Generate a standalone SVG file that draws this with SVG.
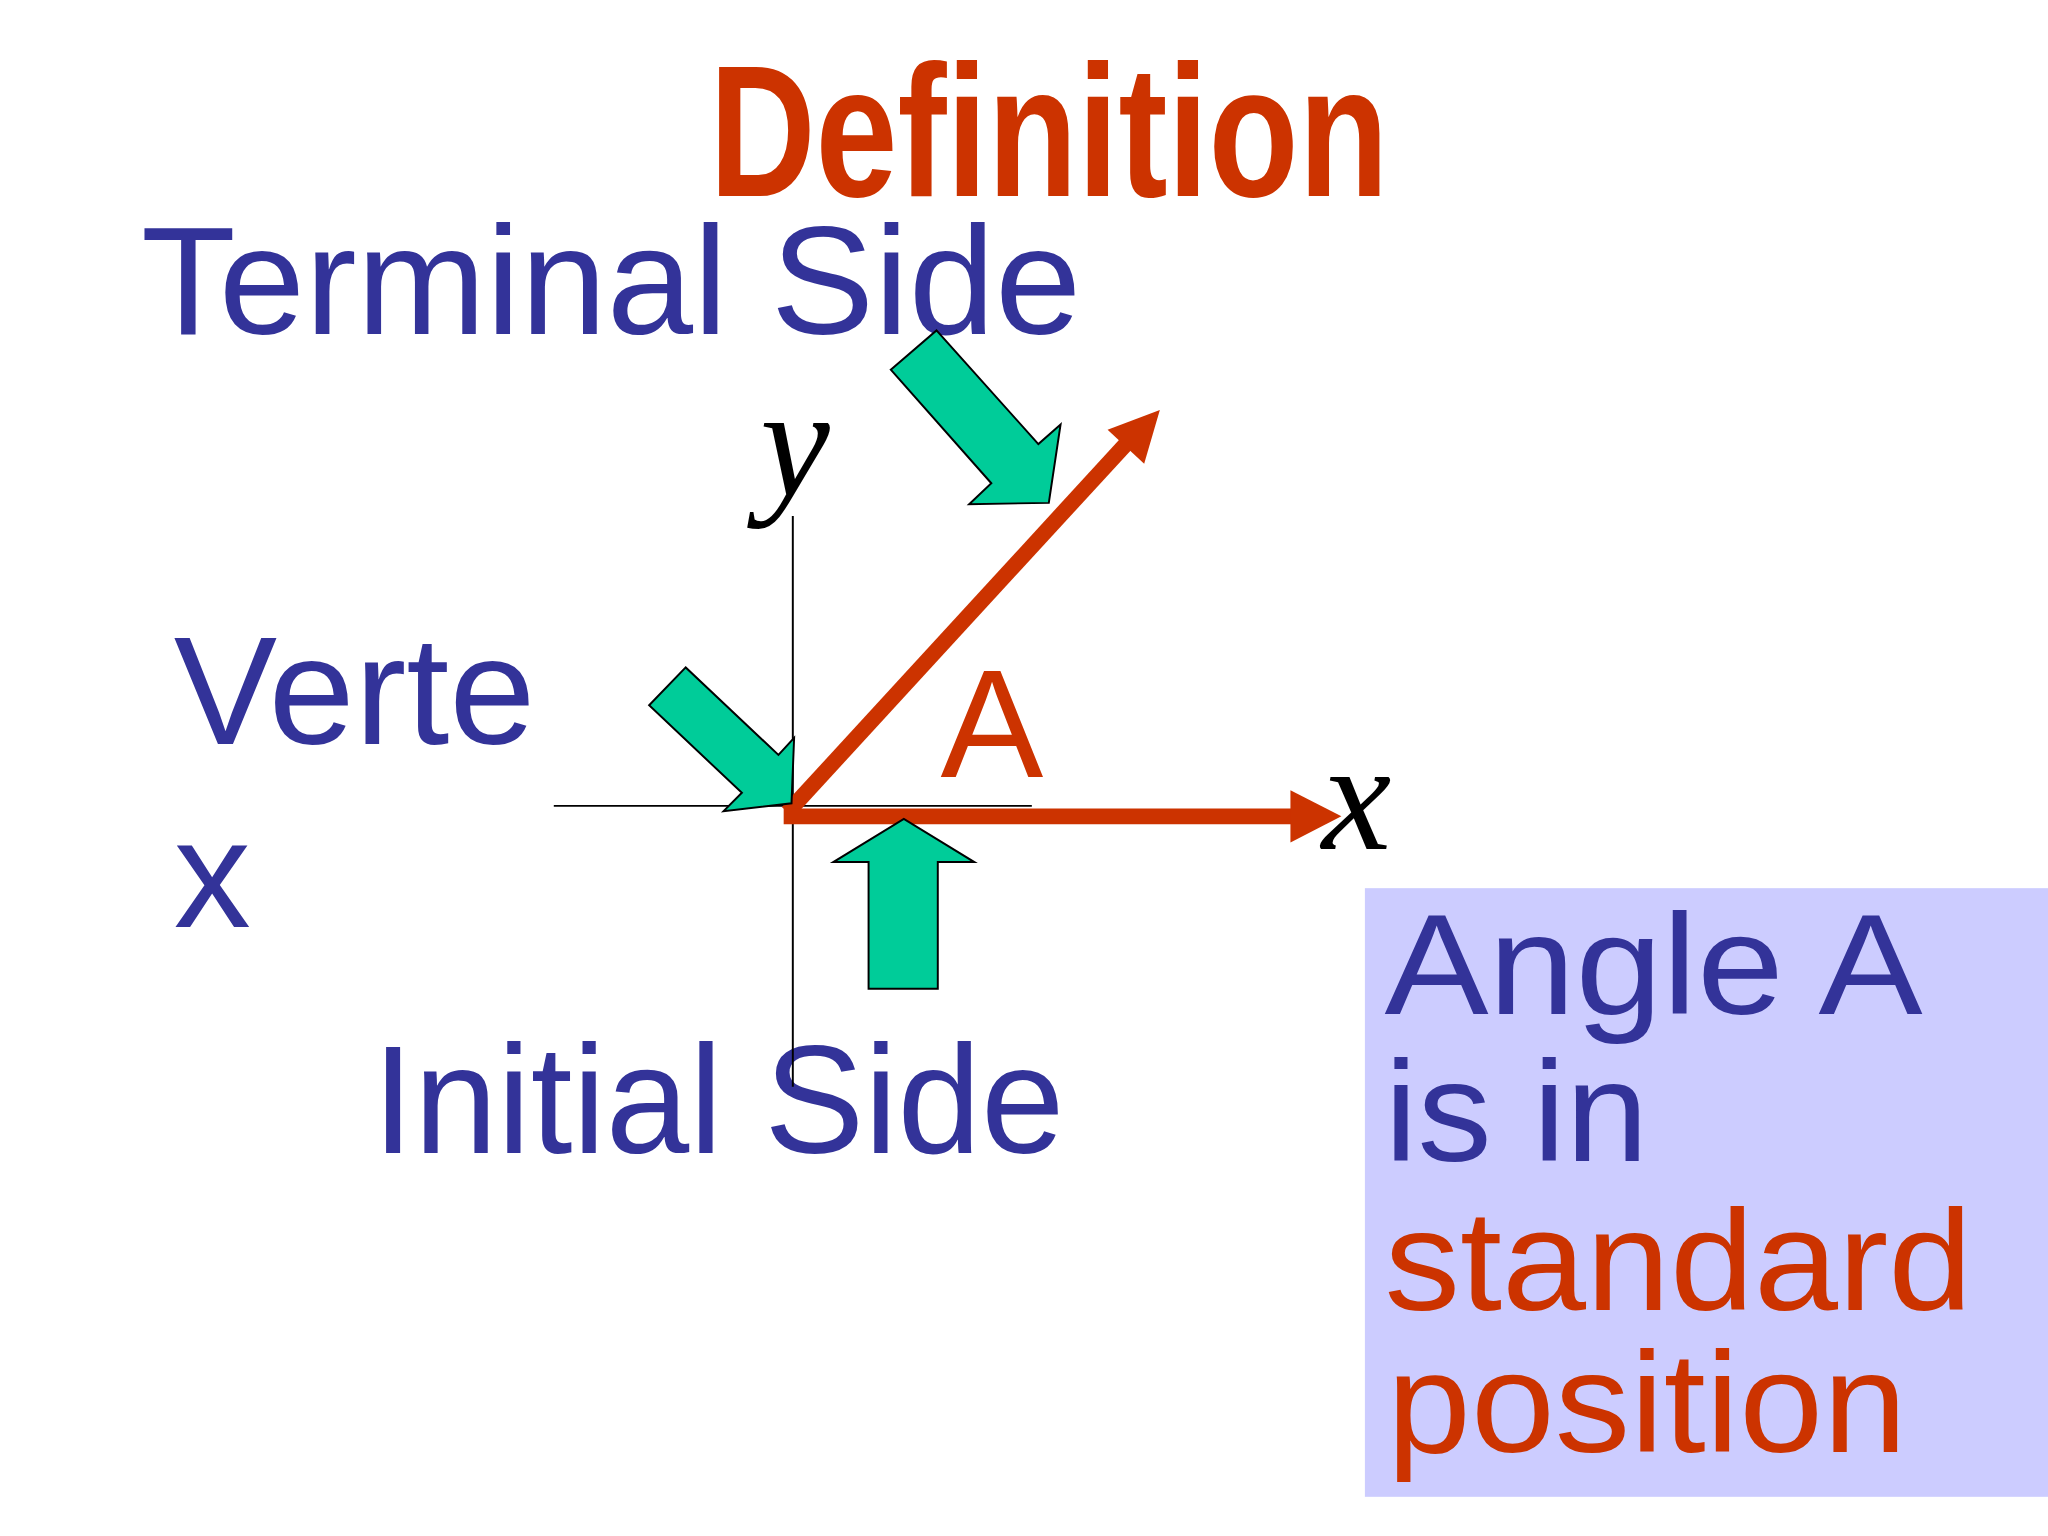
<svg xmlns="http://www.w3.org/2000/svg" width="2048" height="1536" viewBox="0 0 2048 1536">
<style>
.t{font-family:"Liberation Sans",Arial,sans-serif;font-size:118px;fill:#333399}
.b{font-size:110px}
.r{fill:#CC3300}
.g{fill:#00CC99;stroke:#000;stroke-width:1.5}
.m{font-family:"Liberation Serif","Times New Roman",serif;font-style:italic;font-size:120px;fill:#000}
</style>
<rect width="2048" height="1536" fill="#fff"/>
<g transform="scale(1.30612)">
<g id="title"><text x="543" y="150" font-family="Liberation Sans,Arial,sans-serif" font-weight="bold" font-size="143" class="r" textLength="520" lengthAdjust="spacingAndGlyphs">Definition</text></g>
<g id="box"><rect x="1045" y="680" width="523" height="466" fill="#CCCCFF"/>
<text class="t b" x="1060" y="776" textLength="412" lengthAdjust="spacingAndGlyphs">Angle A</text>
<text class="t b" x="1060" y="889" textLength="202" lengthAdjust="spacingAndGlyphs">is in</text>
<text class="t b r" x="1060" y="1003" textLength="450" lengthAdjust="spacingAndGlyphs">standard</text>
<text class="t b r" x="1062" y="1112" textLength="398" lengthAdjust="spacingAndGlyphs">position</text></g>
<g id="labels">
<text class="t" x="108" y="256" textLength="720" lengthAdjust="spacingAndGlyphs">Terminal Side</text>
<text class="t" x="133" y="570" textLength="277" lengthAdjust="spacingAndGlyphs">Verte</text>
<text class="t" x="133" y="710">x</text>
<text class="t" x="285" y="883" textLength="530" lengthAdjust="spacingAndGlyphs">Initial Side</text>
<text class="t r" x="720" y="595" font-size="116">A</text>
<text class="m" x="582" y="380">y</text>
<text class="m" x="1012" y="650">x</text>
</g>
<g id="connectors">
<line x1="607" y1="395" x2="607" y2="832" stroke="#000" stroke-width="1.5"/>
<line x1="424" y1="617" x2="790" y2="617" stroke="#000" stroke-width="1.5"/>
<line x1="603" y1="622" x2="862" y2="340" stroke="#CC3300" stroke-width="12"/>
<polygon class="r" points="888,314 876,355 848,329"/>
<line x1="600" y1="625" x2="990" y2="625" stroke="#CC3300" stroke-width="12"/>
<polygon class="r" points="1027,625 988,645 988,605"/>
</g>
<g id="arrows">
<polygon class="g" points="682,283 717,253 795,340 812,325 803,385 742,386 759,370"/>
<polygon class="g" points="497,540 525,511 596,578 608,565 606,615 554,621 568,607"/>
<polygon class="g" points="665,757 718,757 718,660 746,660 692,627 638,660 665,660"/>
</g>
</g>
</svg>
